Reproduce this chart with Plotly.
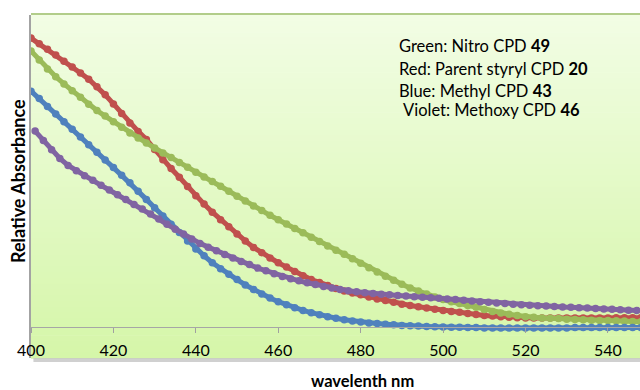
import plotly.graph_objects as go

# ---------------- data ----------------
wavelengths = list(range(400, 549, 2))
wavelengths_violet = list(range(401, 548, 2))

green_nitro_49 = [
    0.885, 0.856, 0.827, 0.802, 0.779, 0.757, 0.736, 0.714, 0.694, 0.676,
    0.658, 0.640, 0.622, 0.606, 0.590, 0.574, 0.558, 0.543, 0.527, 0.512,
    0.496, 0.481, 0.466, 0.451, 0.435, 0.419, 0.404, 0.388, 0.373, 0.358,
    0.344, 0.330, 0.316, 0.302, 0.288, 0.274, 0.260, 0.246, 0.233, 0.219,
    0.204, 0.190, 0.176, 0.163, 0.150, 0.137, 0.125, 0.115, 0.106, 0.096,
    0.088, 0.081, 0.075, 0.069, 0.063, 0.056, 0.050, 0.045, 0.041, 0.037,
    0.033, 0.031, 0.029, 0.028, 0.027, 0.025, 0.024, 0.023, 0.022, 0.021,
    0.021, 0.020, 0.019, 0.018, 0.017,
]

red_parent_20 = [
    0.926, 0.908, 0.890, 0.872, 0.852, 0.833, 0.814, 0.794, 0.770, 0.744,
    0.715, 0.684, 0.654, 0.627, 0.601, 0.569, 0.536, 0.508, 0.480, 0.450,
    0.421, 0.394, 0.368, 0.344, 0.321, 0.298, 0.276, 0.255, 0.238, 0.221,
    0.206, 0.192, 0.178, 0.164, 0.152, 0.143, 0.133, 0.123, 0.115, 0.109,
    0.103, 0.096, 0.090, 0.085, 0.079, 0.073, 0.069, 0.065, 0.061, 0.057,
    0.053, 0.050, 0.047, 0.043, 0.040, 0.037, 0.035, 0.033, 0.031, 0.030,
    0.029, 0.029, 0.029, 0.029, 0.029, 0.029, 0.029, 0.029, 0.029, 0.029,
    0.029, 0.030, 0.030, 0.030, 0.030,
]

blue_methyl_43 = [
    0.756, 0.732, 0.707, 0.683, 0.658, 0.634, 0.609, 0.584, 0.560, 0.535,
    0.511, 0.486, 0.462, 0.435, 0.409, 0.382, 0.356, 0.329, 0.303, 0.276,
    0.250, 0.228, 0.206, 0.187, 0.169, 0.152, 0.135, 0.120, 0.106, 0.093,
    0.081, 0.071, 0.062, 0.053, 0.046, 0.039, 0.033, 0.028, 0.023, 0.019,
    0.016, 0.013, 0.011, 0.009, 0.007, 0.005, 0.004, 0.003, 0.002, 0.001,
    0.000, -0.001, -0.001, -0.002, -0.002, -0.003, -0.003, -0.003, -0.003, -0.003,
    -0.003, -0.003, -0.003, -0.003, -0.003, -0.003, -0.002, -0.002, -0.002, -0.002,
    -0.002, -0.002, -0.002, -0.002, -0.002,
]

violet_methoxy_46 = [
    0.628, 0.598, 0.568, 0.540, 0.518, 0.501, 0.485, 0.470, 0.454, 0.439,
    0.424, 0.409, 0.393, 0.378, 0.362, 0.346, 0.329, 0.313, 0.298, 0.282,
    0.268, 0.256, 0.244, 0.232, 0.221, 0.210, 0.200, 0.189, 0.180, 0.171,
    0.162, 0.155, 0.148, 0.142, 0.136, 0.130, 0.125, 0.120, 0.116, 0.113,
    0.110, 0.107, 0.105, 0.103, 0.101, 0.099, 0.097, 0.095, 0.094, 0.092,
    0.090, 0.088, 0.086, 0.083, 0.081, 0.079, 0.077, 0.075, 0.073, 0.071,
    0.070, 0.068, 0.067, 0.066, 0.064, 0.063, 0.062, 0.061, 0.059, 0.058,
    0.057, 0.055, 0.054, 0.053,
]

x_ticks = [400, 420, 440, 460, 480, 500, 520, 540]

legend_lines = [
    ("Green: Nitro CPD ", "49"),
    ("Red: Parent styryl CPD ", "20"),
    ("Blue: Methyl CPD ", "43"),
    ("Violet: Methoxy CPD ", "46"),
]

# ---------------- figure ----------------
W, H = 640, 390
L, T, R, B = 31, 15, 0, 32
PW, PH = W - L - R, H - T - B
FONT = "Lato, Roboto, 'Open Sans', sans-serif"


def px_x(p):
    return (p - L) / PW


def px_y(p):
    return (H - B - p) / PH


fig = go.Figure()

series = [
    (wavelengths, red_parent_20, "#c0504d", "Red"),
    (wavelengths, green_nitro_49, "#9bbb59", "Green"),
    (wavelengths, blue_methyl_43, "#4f81bd", "Blue"),
    (wavelengths_violet, violet_methoxy_46, "#8064a2", "Violet"),
]
for xs, ys, col, name in series:
    fig.add_trace(go.Scatter(
        x=xs, y=ys, mode="lines+markers", name=name,
        line=dict(color=col, width=5),
        marker=dict(color=col, size=7.5, line=dict(width=0)),
        hoverinfo="skip", showlegend=False,
    ))

# gradient background of the plot area (extends below the zero line)
shapes = []
n_bands = 60
top_rgb = (242, 253, 229)
bot_rgb = (213, 246, 168)
for i in range(n_bands):
    f = (i + 0.5) / n_bands
    r = round(top_rgb[0] + (bot_rgb[0] - top_rgb[0]) * f)
    g = round(top_rgb[1] + (bot_rgb[1] - top_rgb[1]) * f)
    b = round(top_rgb[2] + (bot_rgb[2] - top_rgb[2]) * f)
    shapes.append(dict(
        type="rect", xref="paper", yref="paper", layer="below",
        x0=0, x1=1, y0=1 - (i + 1) / n_bands - 0.002, y1=1 - i / n_bands,
        fillcolor=f"rgb({r},{g},{b})", line=dict(width=0),
    ))
# top border of plot area
shapes.append(dict(type="line", xref="paper", yref="paper", x0=0, x1=1,
                   y0=1.003, y1=1.003, line=dict(color="#b2cd8a", width=2)))
# bottom shadow
shapes.append(dict(type="rect", xref="paper", yref="paper", x0=0.004, x1=1,
                   y0=-4 / PH, y1=0, fillcolor="#c4c4c4", line=dict(width=0),
                   opacity=0.8))

annotations = []
legend_x = [397, 397, 397, 401]
legend_y = [45.5, 68.5, 91.5, 110]
for (txt, num), lx, ly in zip(legend_lines, legend_x, legend_y):
    annotations.append(dict(
        x=px_x(lx), y=px_y(ly), xref="paper", yref="paper",
        xanchor="left", yanchor="middle", showarrow=False,
        text=f"{txt}<b>{num}</b>",
        font=dict(family=FONT, size=16.5, color="#000000"),
    ))

annotations.append(dict(
    x=px_x(18), y=px_y(181), xref="paper", yref="paper",
    xanchor="center", yanchor="middle", showarrow=False, textangle=-90,
    text="<b>Relative Absorbance</b>",
    font=dict(family=FONT, size=18, color="#000000"),
))
annotations.append(dict(
    x=px_x(362), y=px_y(381), xref="paper", yref="paper",
    xanchor="center", yanchor="middle", showarrow=False,
    text="<b>wavelenth nm</b>",
    font=dict(family=FONT, size=16.5, color="#000000"),
))

zero_pos = (H - B - 327) / PH

fig.update_layout(
    width=W, height=H,
    margin=dict(l=L, r=R, t=T, b=B, pad=0),
    paper_bgcolor="#ffffff",
    plot_bgcolor="rgba(0,0,0,0)",
    shapes=shapes,
    annotations=annotations,
    xaxis=dict(
        range=[400, 400 + PW / 4.121],
        tickvals=x_ticks, ticktext=[str(v) for v in x_ticks],
        ticks="outside", ticklen=5, tickcolor="#a0a0a0", tickwidth=1,
        showline=True, linecolor="#a6a6a6", linewidth=1,
        showgrid=False, zeroline=False,
        anchor="free", position=zero_pos,
        tickfont=dict(family=FONT, size=16, color="#000000"),
        ticklabelstandoff=4,
    ),
    yaxis=dict(
        range=[(327 - (H - B)) / 312, 1.0],
        showticklabels=False, ticks="",
        showline=True, linecolor="#a3a3a3", linewidth=2,
        showgrid=False, zeroline=False,
    ),
)

fig.write_html(
    "out.html",
    config={"displayModeBar": False},
    post_script="document.body.style.margin='0';document.body.style.padding='0';",
)
